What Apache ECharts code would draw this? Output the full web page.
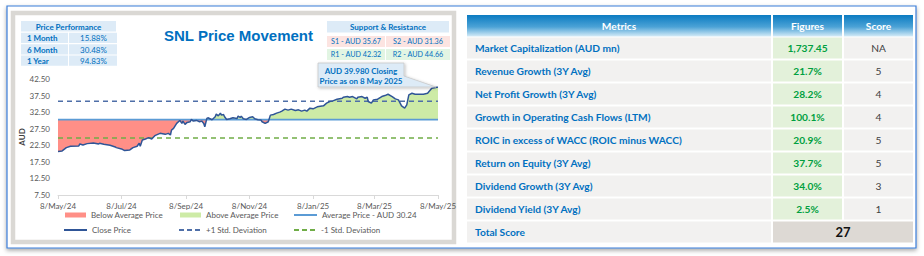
<!DOCTYPE html>
<html><head><meta charset="utf-8">
<script src="https://cdn.jsdelivr.net/npm/echarts@6/dist/echarts.min.js"></script>
<style>html,body{margin:0;padding:0;background:#fff}#c{width:924px;height:256px}</style>
</head><body><div id="c"></div>
<script>
// ---------- DATA ----------
const closeDates = ['2024-05-08','2024-05-12','2024-05-16','2024-05-20','2024-05-28','2024-05-29','2024-06-01','2024-06-05','2024-06-11','2024-06-16','2024-06-17','2024-06-21','2024-06-27','2024-07-02','2024-07-03','2024-07-08','2024-07-11','2024-07-16','2024-07-19','2024-07-23','2024-07-25','2024-07-26','2024-07-28','2024-07-31','2024-08-03','2024-08-06','2024-08-09','2024-08-14','2024-08-19','2024-08-22','2024-08-24','2024-08-25','2024-08-27','2024-08-30','2024-09-02','2024-09-04','2024-09-05','2024-09-07','2024-09-09','2024-09-12','2024-09-13','2024-09-15','2024-09-18','2024-09-21','2024-09-23','2024-09-25','2024-09-26','2024-09-28','2024-09-29','2024-10-03','2024-10-04','2024-10-06','2024-10-07','2024-10-09','2024-10-11','2024-10-12','2024-10-14','2024-10-15','2024-10-17','2024-10-20','2024-10-23','2024-10-27','2024-10-28','2024-10-30','2024-10-31','2024-11-02','2024-11-05','2024-11-08','2024-11-11','2024-11-13','2024-11-16','2024-11-19','2024-11-20','2024-11-23','2024-11-26','2024-11-28','2024-12-01','2024-12-04','2024-12-07','2024-12-09','2024-12-12','2024-12-15','2024-12-18','2024-12-22','2024-12-25','2024-12-28','2024-12-31','2025-01-02','2025-01-05','2025-01-08','2025-01-12','2025-01-18','2025-01-21','2025-01-24','2025-01-27','2025-01-31','2025-02-05','2025-02-06','2025-02-10','2025-02-12','2025-02-15','2025-02-19','2025-02-20','2025-02-24','2025-02-27','2025-03-01','2025-03-02','2025-03-05','2025-03-07','2025-03-11','2025-03-15','2025-03-18','2025-03-21','2025-03-25','2025-03-28','2025-03-31','2025-04-03','2025-04-06','2025-04-08','2025-04-10','2025-04-13','2025-04-16','2025-04-24','2025-04-28','2025-05-02','2025-05-07','2025-05-08'];
const closePrices = [20.6,20.8,21.8,22.2,22.3,22.9,22.6,23.0,23.2,22.9,23.1,22.8,22.5,22.0,21.8,21.4,20.9,21.1,21.8,22.2,23.1,22.2,24.1,24.4,24.8,24.4,25.4,26.1,25.8,26.1,25.6,27.1,27.6,29.1,30.0,29.1,29.8,28.8,29.4,29.6,30.3,29.8,30.0,29.6,29.8,29.1,28.1,30.6,30.8,30.2,30.5,31.1,31.9,31.4,32.2,31.6,31.8,31.1,30.3,30.5,30.8,30.6,31.3,30.9,31.3,30.5,30.3,30.9,31.1,30.5,30.2,30.1,29.6,29.1,29.6,31.6,31.8,32.2,32.5,32.8,33.4,33.1,33.4,33.0,33.2,32.8,33.1,32.8,33.7,33.5,34.1,34.4,35.2,35.7,35.9,36.4,36.7,37.0,37.2,37.0,37.2,36.5,37.0,37.2,36.7,37.0,35.7,35.2,36.2,36.4,37.2,37.5,37.9,37.2,36.5,36.2,34.4,33.7,34.7,37.7,38.2,37.9,37.9,38.2,39.7,40.0,39.98];
const averagePrice = 30.24;
const plusStdDev = 35.8;
const minusStdDev = 24.7;
const xTickDates = ['2024-05-08','2024-07-08','2024-09-08','2024-11-08','2025-01-08','2025-03-08','2025-05-08'];
const monthNames = ['Jan','Feb','Mar','Apr','May','Jun','Jul','Aug','Sep','Oct','Nov','Dec'];
const perfLabels = ['1 Month','6 Month','1 Year'];
const perfValues = ['15.88%','30.48%','94.83%'];
const supportLabels = ['S1 - AUD 35.67','S2 - AUD 31.36'];
const resistanceLabels = ['R1 - AUD 42.32','R2 - AUD 44.66'];
const calloutLines = ['AUD 39.980 Closing','Price as on 8 May 2025'];
const tableHeaders = ['Metrics','Figures','Score'];
const metrics = ['Market Capitalization (AUD mn)','Revenue Growth (3Y Avg)','Net Profit Growth (3Y Avg)','Growth in Operating Cash Flows (LTM)','ROIC in excess of WACC (ROIC minus WACC)','Return on Equity (3Y Avg)','Dividend Growth (3Y Avg)','Dividend Yield (3Y Avg)'];
const figures = ['1,737.45','21.7%','28.2%','100.1%','20.9%','37.7%','34.0%','2.5%'];
const scores = ['NA','5','4','4','5','5','3','1'];
const totalScore = '27';

// ---------- HELPERS ----------
function ts(s){const p=s.split('-').map(Number);return Date.UTC(p[0],p[1]-1,p[2]);}
const priceData = closeDates.map((d,i)=>[ts(d), closePrices[i]]);
const xMin = ts(closeDates[0]), xMax = ts(closeDates[closeDates.length-1]);
const tickTs = xTickDates.map(ts);
function flat(v){return [[xMin,v],[xMax,v]];}

const BLUE = '#0070C0';
const FONT = 'Lato';
function rect(x,y,w,h,fill,extra){return Object.assign({type:'rect',silent:true,shape:{x:x,y:y,width:w,height:h},style:{fill:fill}},extra||{});}
function text(x,y,t,font,fill,align,z){return {type:'text',silent:true,x:x,y:y,z:z||10,style:{text:t,font:font,fill:fill,align:align||'center',verticalAlign:'middle'}};}

const g = [];
g.push(rect(7,6,909,242,'#fff',{z:-10,style:{fill:'#fff',stroke:'#3B7DD8',lineWidth:1.2,shadowBlur:4,shadowOffsetY:2,shadowColor:'rgba(0,0,0,0.35)'}}));
g.push(rect(13,13,441,229,'none',{z:-5,style:{fill:'none',stroke:'#DAD8D4',lineWidth:4.5}}));
g.push(text(238.5,35,'SNL Price Movement','bold 15px "Liberation Sans"',BLUE));
g.push(rect(21,21,95,10.5,'#DDEBF7'));
g.push(text(68.5,26.5,'Price Performance','bold 8px '+FONT,BLUE));
perfLabels.forEach((l,i)=>{
  const y = 32.8 + i*11.4;
  g.push(rect(21,y,47,10.2,'#DDEBF7'));
  g.push(rect(69,y,48,10.2,'#DDEBF7'));
  g.push(text(27,y+5.3,l,'bold 8px '+FONT,BLUE,'left'));
  g.push(text(93.5,y+5.3,perfValues[i],'8px '+FONT,BLUE));
});
g.push(rect(327,21,122,11.5,'#DDEBF7'));
g.push(text(388,27,'Support & Resistance','bold 8px '+FONT,BLUE));
[[supportLabels,36,'#FCE4E1'],[resistanceLabels,49,'#E2F5E3']].forEach(r=>{
  g.push(rect(327,r[1],58,11,r[2]));
  g.push(rect(386,r[1],64,11,r[2]));
  g.push(text(356,r[1]+5.8,r[0][0],'7.2px '+FONT,BLUE));
  g.push(text(418,r[1]+5.8,r[0][1],'7.2px '+FONT,BLUE));
});
g.push({type:'polygon',silent:true,z:50,shape:{points:[[318,63],[404,63],[404,76],[436,87],[404,87],[318,87]]},
  style:{fill:'#DDEBF7',stroke:'#C8C8C8',lineWidth:0.8,shadowBlur:3,shadowOffsetX:1,shadowOffsetY:1,shadowColor:'rgba(0,0,0,0.25)'}});
g.push(text(361,70.5,calloutLines[0],'bold 8px '+FONT,BLUE,'center',51));
g.push(text(361,81,calloutLines[1],'bold 8px '+FONT,BLUE,'center',51));

const hdrGrad = new echarts.graphic.LinearGradient(0,0,0,1,[{offset:0,color:'#0B7BC1'},{offset:0.55,color:'#4BA2D6'},{offset:1,color:'#D4EBF7'}]);
const cols = [[467,304],[773,69],[844,69]];
cols.forEach((c,i)=>{
  g.push(rect(c[0],15,c[1],21.5,hdrGrad));
  g.push(text(c[0]+c[1]/2,25.8,tableHeaders[i],'bold 10.2px '+FONT,'#fff'));
});
metrics.forEach((m,i)=>{
  const y = 37.5 + i*23;
  g.push(rect(467,y,304,21,'#F2F1F0'));
  g.push(rect(773,y,69,21,'#E3F1DA'));
  g.push(rect(844,y,69,21,'#F2F1F0'));
  g.push(text(475,y+10.8,m,'bold 10.2px '+FONT,BLUE,'left'));
  g.push(text(807.5,y+10.8,figures[i],'bold 10.2px '+FONT,'#00A040'));
  g.push(text(878.5,y+10.8,scores[i],'10.2px '+FONT,'#404040'));
});
{
  const y = 37.5 + 8*23;
  g.push(rect(467,y,304,21,'#F2F1F0'));
  g.push(rect(773,y,140,21,'#DDD9D4'));
  g.push(text(475,y+10.8,'Total Score','bold 10.2px '+FONT,BLUE,'left'));
  g.push(text(843,y+10.8,totalScore,'bold 13px '+FONT,'#111'));
}

const legendText = {color:'#595959',fontSize:8,fontFamily:FONT};
function lg(name,left,top,icon,w,h){
  return {show:true,data:[{name:name,icon:icon}],left:left,top:top,padding:0,itemWidth:w,itemHeight:h,itemGap:0,
    textStyle:legendText,itemStyle:{borderWidth:0},lineStyle:{width:0},selectedMode:false};
}
const solidIcon = 'path://M0,0h23v2h-23z';
const dashIcon = 'path://M0,0h5v2h-5zM8,0h5v2h-5zM16,0h5v2h-5z';

const chart = echarts.init(document.getElementById('c'), null, {renderer:'svg'});
chart.setOption({
  animation:false,
  backgroundColor:'#fff',
  textStyle:{fontFamily:FONT},
  grid:{left:58,top:79,width:380,height:116,containLabel:false},
  xAxis:{type:'value',min:xMin,max:xMax,
    axisLine:{show:true,lineStyle:{color:'#D9D9D9',width:1}},
    axisTick:{show:true,customValues:tickTs,length:4,lineStyle:{color:'#D9D9D9'}},
    splitLine:{show:false},
    axisLabel:{customValues:tickTs,margin:7,color:'#595959',fontSize:8,fontFamily:FONT,
      formatter:function(v){const d=new Date(v);return d.getUTCDate()+'/'+monthNames[d.getUTCMonth()]+'/'+String(d.getUTCFullYear()).slice(2);}}},
  yAxis:{type:'value',min:7.5,max:42.5,interval:5,
    name:'AUD',nameLocation:'middle',nameGap:30,nameRotate:90,
    nameTextStyle:{fontWeight:'bold',fontSize:8,color:'#404040',fontFamily:FONT},
    axisLine:{show:false},axisTick:{show:false},splitLine:{show:false},
    axisLabel:{margin:8,color:'#595959',fontSize:8,fontFamily:FONT,formatter:function(v){return v.toFixed(2);}}},
  visualMap:{type:'piecewise',show:false,seriesIndex:0,dimension:1,
    pieces:[{gte:0,lt:averagePrice,color:'#FF8F87'},{gte:averagePrice,lte:1000,color:'#CDEBA6'}]},
  legend:[
    lg('Below Average Price',65,211,'rect',21,5),
    lg('Above Average Price',180,211,'rect',21,5),
    lg('Average Price - AUD 30.24',294,211,solidIcon,23,2),
    lg('Close Price',64,226,solidIcon,23,2),
    lg('+1 Std. Deviation',179,226,dashIcon,23,2),
    lg('-1 Std. Deviation',294,226,dashIcon,23,2)
  ],
  series:[
    {name:'fill',type:'line',data:priceData,showSymbol:false,silent:true,z:1,
      lineStyle:{width:0},areaStyle:{origin:averagePrice,opacity:1}},
    {name:'Average Price - AUD 30.24',type:'line',data:flat(averagePrice),showSymbol:false,silent:true,z:2,
      itemStyle:{color:'#5B9BD5'},lineStyle:{color:'#5B9BD5',width:1.6}},
    {name:'+1 Std. Deviation',type:'line',data:flat(plusStdDev),showSymbol:false,silent:true,z:3,
      itemStyle:{color:'#4F6FA8'},lineStyle:{color:'#4F6FA8',width:1.6,type:[5,4]}},
    {name:'-1 Std. Deviation',type:'line',data:flat(minusStdDev),showSymbol:false,silent:true,z:3,
      itemStyle:{color:'#70AD47'},lineStyle:{color:'#70AD47',width:1.6,type:[5,4]}},
    {name:'Close Price',type:'line',data:priceData,showSymbol:false,silent:true,z:4,
      itemStyle:{color:'#2F5597'},lineStyle:{color:'#2F5597',width:1.5}},
    {name:'Below Average Price',type:'line',data:[],itemStyle:{color:'#FF8F87'},lineStyle:{color:'#FF8F87'}},
    {name:'Above Average Price',type:'line',data:[],itemStyle:{color:'#CDEBA6'},lineStyle:{color:'#CDEBA6'}}
  ],
  graphic:{elements:g}
});
</script></body></html>
